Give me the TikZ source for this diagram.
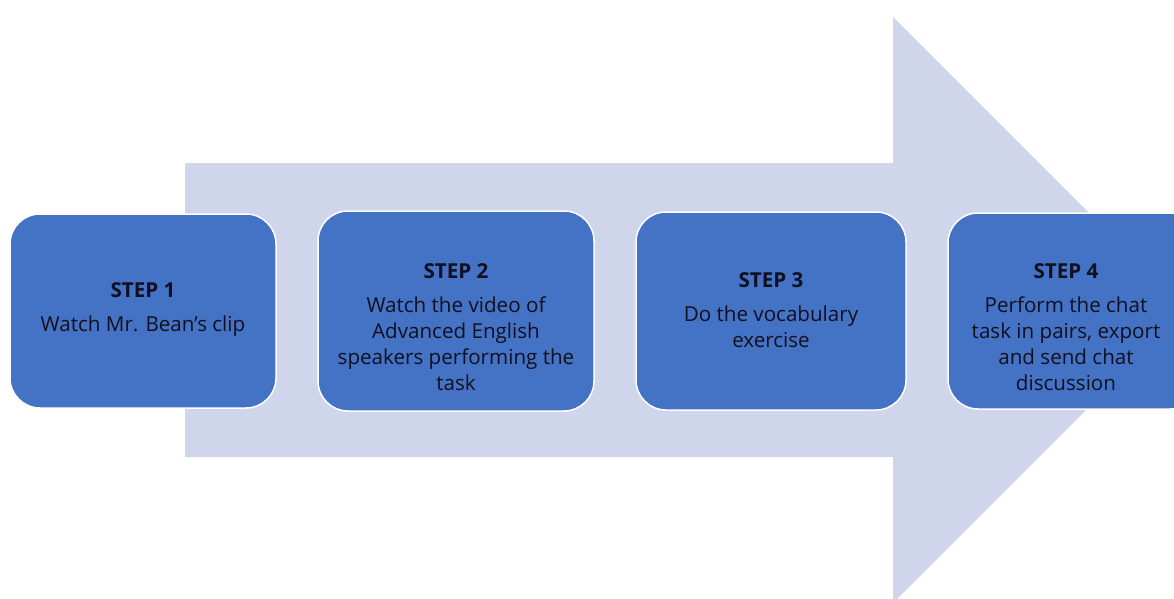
\documentclass[tikz,border=0pt]{standalone}
\usepackage{fontspec}
\setmainfont{Open Sans}
\definecolor{arrowfill}{HTML}{CFD5EA}
\definecolor{boxfill}{HTML}{4472C4}
\definecolor{txt}{HTML}{101020}
\begin{document}
\begin{tikzpicture}[x=1pt,y=-1pt,
  stepbox/.style={draw=white, line width=1.5pt, fill=boxfill, rounded corners=30pt},
  steptext/.style={align=center, text=txt, font=\fontsize{20.6}{26}\selectfont}]
\useasboundingbox (0,0) rectangle (1174,599);
\begin{scope}
\clip (0,0) rectangle (1174,599);
\fill[arrowfill] (185,163) -- (893,163) -- (893,17) -- (1186,310) -- (893,603) -- (893,457) -- (185,457) -- cycle;
\draw[stepbox] (10,214) rectangle (276,408);
\draw[stepbox] (318,211) rectangle (594,411);
\draw[stepbox] (636,212) rectangle (906,410);
\draw[stepbox] (948,213) rectangle (1200,409);
\end{scope}
\node[steptext] (s1) at (143,310) {\textbf{STEP 1}\\[8pt]Watch Mr. Bean’s clip};
\node[steptext] (s2) at (456,327) {\textbf{STEP 2}\\[8pt]Watch the video of\\Advanced English\\speakers performing the\\task};
\node[steptext] (s3) at (771,310) {\textbf{STEP 3}\\[8pt]Do the vocabulary\\exercise};
\node[steptext] (s4) at (1066,327) {\textbf{STEP 4}\\[8pt]Perform the chat\\task in pairs, export\\and send chat\\discussion};
\end{tikzpicture}
\end{document}
